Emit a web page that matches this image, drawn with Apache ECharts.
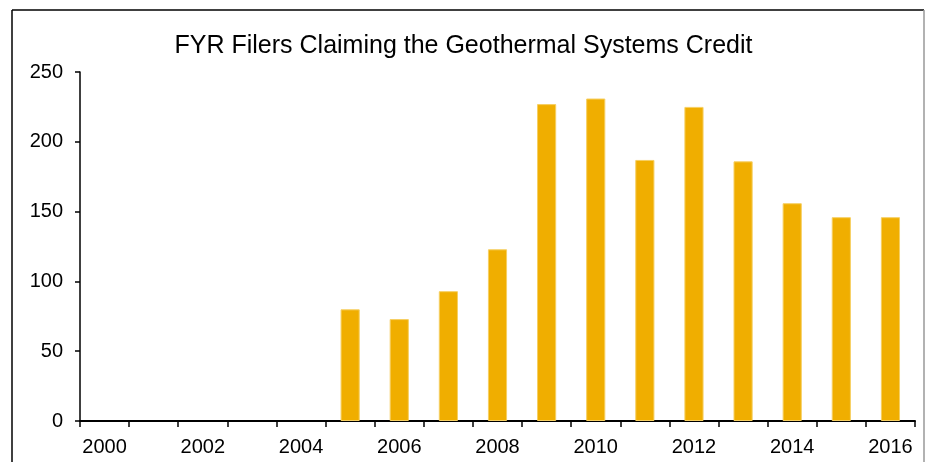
<!DOCTYPE html>
<html><head><meta charset="utf-8">
<script src="https://cdn.jsdelivr.net/npm/echarts@6/dist/echarts.min.js"></script>
<style>html,body{margin:0;padding:0;background:#fff}#c{width:927px;height:462px}</style>
</head><body><div id="c"></div>
<script>
const years = ['2000','2001','2002','2003','2004','2005','2006','2007','2008','2009','2010','2011','2012','2013','2014','2015','2016'];
const filers = [null,null,null,null,null,80,73,93,123,227,231,187,225,186,156,146,146];
const yTicks = {min:0, max:250, interval:50};
const titleText = 'FYR Filers Claiming the Geothermal Systems Credit';

const chart = echarts.init(document.getElementById('c'), null, {renderer:'canvas'});
chart.setOption({
  animation:false,
  backgroundColor:'#fff',
  title:{text:titleText,left:'center',top:29,textStyle:{fontFamily:'Liberation Sans, Arial',fontSize:25,fontWeight:'normal',color:'#000'}},
  grid:{left:80,right:12,top:72,bottom:41,containLabel:false},
  xAxis:{type:'category',data:years,boundaryGap:true,
    axisLine:{lineStyle:{color:'#000',width:2}},
    axisTick:{show:true,interval:0,length:6,lineStyle:{color:'#000',width:1.5}},
    axisLabel:{interval:1,margin:16,color:'#000',fontFamily:'Liberation Sans, Arial',fontSize:20},
    splitLine:{show:false}},
  yAxis:{type:'value',min:yTicks.min,max:yTicks.max,interval:yTicks.interval,
    axisLine:{show:true,lineStyle:{color:'#000',width:1.5}},
    axisTick:{show:true,length:5,inside:false,lineStyle:{color:'#000',width:1.5}},
    axisLabel:{margin:17,color:'#000',fontFamily:'Liberation Sans, Arial',fontSize:20},
    splitLine:{show:false}},
  series:[{type:'bar',data:filers,barWidth:'39%',
    itemStyle:{color:'#F0AE00',borderColor:'#F6CF62',borderWidth:1}}],
  graphic:[
    {type:'line',shape:{x1:12,y1:10,x2:12,y2:470},style:{stroke:'#000',lineWidth:1.5}},
    {type:'line',shape:{x1:12,y1:10,x2:924,y2:10},style:{stroke:'#000',lineWidth:1.5}},
    {type:'line',shape:{x1:924,y1:10,x2:924,y2:470},style:{stroke:'#999',lineWidth:1.5}}
  ]
});
</script></body></html>
